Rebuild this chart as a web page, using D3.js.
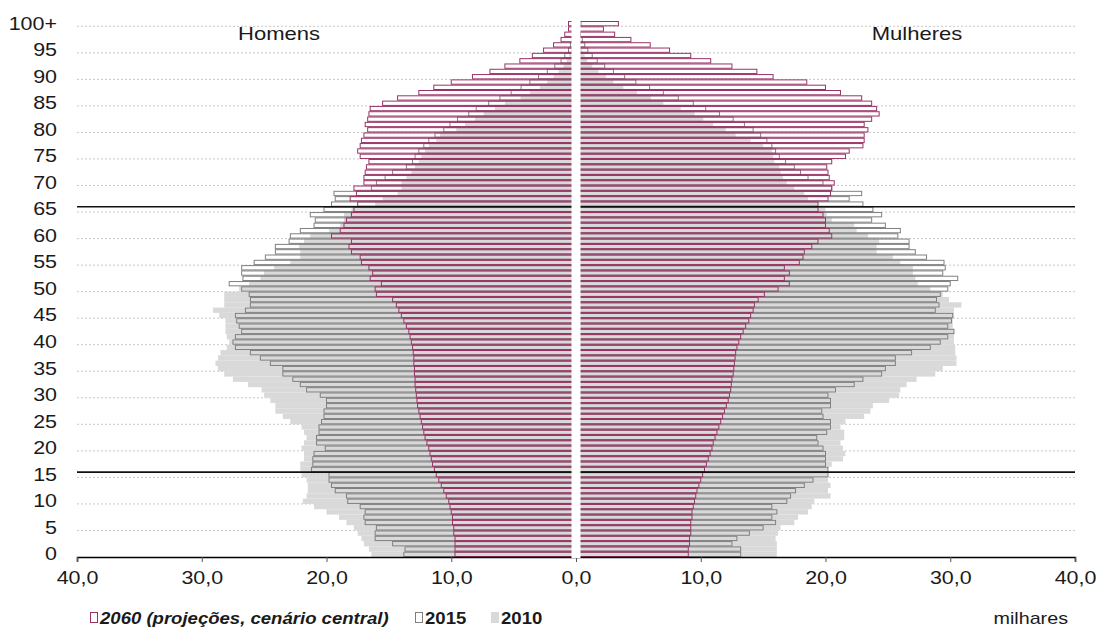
<!DOCTYPE html>
<html>
<head>
<meta charset="UTF-8">
<title>Pirâmide etária 2010, 2015 e 2060</title>
<script src="https://cdn.jsdelivr.net/npm/d3@7/dist/d3.min.js"></script>
<style>
    body { margin: 0; background: #ffffff; }
    text { font-family: "Liberation Sans", Arial, Helvetica, sans-serif; fill: #1a1a1a; }
</style>
</head>
<body>
<svg id="chart" width="1100" height="628"></svg>
<script>
// idades 0..100+ (milhares)
var idades = d3.range(0, 101);
var idadeTicks = [0, 5, 10, 15, 20, 25, 30, 35, 40, 45, 50, 55, 60, 65, 70, 75, 80, 85, 90, 95, 100];
var xTicks = [-40, -30, -20, -10, 0, 10, 20, 30, 40];
var linhasRef = [65, 15];

var homens2010 = [16.4, 16.6, 17.0, 17.2, 17.5, 17.8, 18.4, 19.0, 20.0, 21.0,
    21.9, 21.6, 21.5, 21.5, 21.6, 22.0, 22.1, 22.1, 21.8, 21.8,
    22.0, 21.8, 21.6, 21.8, 22.0, 22.9, 23.5, 24.1, 24.1, 24.5,
    25.0, 25.2, 26.3, 27.5, 28.2, 28.7, 28.9, 28.7, 28.5, 28.0,
    27.8, 28.0, 28.1, 28.1, 28.1, 28.6, 29.1, 28.2, 28.2, 28.2,
    27.0, 26.2, 25.3, 25.0, 24.2, 22.9, 22.1, 22.1, 22.2, 21.8,
    21.3, 19.8, 18.9, 18.6, 18.6, 18.0, 16.1, 15.5, 14.3, 14.0,
    14.0, 13.6, 13.2, 12.9, 12.6, 12.4, 12.1, 11.8, 11.2, 10.9,
    9.6, 8.9, 8.1, 7.4, 6.5, 5.7, 4.45, 3.7, 2.9, 2.3,
    1.8, 1.4, 1.0, 0.75, 0.55, 0.4, 0.28, 0.2, 0.14, 0.1,
    0.15];
var homens2015 = [13.8, 13.7, 14.7, 16.1, 16.1, 16.0, 16.9, 17.0, 16.9, 17.3,
    18.3, 18.4, 19.3, 19.6, 19.8, 19.8, 21.2, 21.1, 21.1, 21.0,
    20.1, 20.8, 20.8, 20.6, 20.6, 20.4, 20.2, 20.2, 20.0, 20.0,
    20.5, 21.6, 22.1, 22.7, 23.5, 23.5, 24.5, 25.3, 26.1, 27.3,
    27.5, 27.3, 26.8, 27.0, 27.2, 27.3, 26.5, 26.1, 26.1, 26.2,
    26.8, 27.8, 26.7, 26.8, 26.8, 25.8, 24.9, 24.1, 24.1, 23.0,
    22.9, 22.1, 21.0, 20.9, 21.3, 20.2, 19.6, 19.3, 19.4, 16.4,
    16.0, 15.3, 14.7, 13.6, 13.1, 12.9, 12.6, 12.2, 11.8, 11.3,
    10.6, 10.1, 9.5, 8.6, 8.0, 7.0, 6.1, 5.2, 4.4, 3.7,
    3.0, 2.3, 1.7, 1.2, 0.9, 0.6, 0.45, 0.3, 0.2, 0.15,
    0.2];
var homens2060 = [9.7, 9.7, 9.7, 9.7, 9.8, 9.8, 9.9, 9.9, 10.0, 10.1,
    10.2, 10.4, 10.6, 10.8, 11.0, 11.2, 11.35, 11.5, 11.6, 11.7,
    11.8, 11.95, 12.1, 12.2, 12.3, 12.4, 12.5, 12.6, 12.7, 12.75,
    12.8, 12.85, 12.9, 12.9, 12.95, 12.95, 13.0, 13.0, 13.05, 13.1,
    13.2, 13.3, 13.4, 13.6, 13.8, 14.0, 14.2, 14.4, 14.7, 16.0,
    16.1, 15.6, 16.5, 16.3, 16.6, 17.2, 17.3, 18.0, 18.2, 18.0,
    19.6, 18.9, 18.6, 18.4, 18.0, 17.8, 17.5, 18.1, 17.6, 17.8,
    17.0, 17.0, 16.9, 16.8, 16.6, 17.3, 17.5, 17.3, 17.2, 17.0,
    16.7, 16.9, 16.7, 16.6, 16.5, 15.5, 14.3, 12.6, 11.4, 10.0,
    8.3, 6.9, 5.7, 4.5, 3.5, 2.6, 1.8, 1.2, 0.9, 0.6,
    0.6];

var mulheres2010 = [16.1, 16.1, 16.1, 16.0, 16.2, 16.4, 17.5, 17.8, 18.6, 18.9,
    19.1, 20.4, 20.2, 20.4, 20.2, 20.2, 20.2, 20.5, 21.4, 21.6,
    21.4, 21.2, 21.5, 21.5, 21.2, 21.6, 23.1, 23.6, 23.8, 25.1,
    25.9, 26.0, 26.5, 27.3, 28.8, 29.4, 30.5, 30.5, 30.4, 30.4,
    30.3, 30.3, 30.3, 30.2, 30.2, 30.3, 30.3, 30.9, 29.9, 29.4,
    28.4, 27.4, 27.2, 27.0, 27.0, 26.0, 25.4, 24.1, 24.1, 24.3,
    23.4, 22.5, 22.3, 20.5, 20.1, 20.0, 19.4, 18.6, 18.3, 17.5,
    16.9, 16.6, 16.4, 16.3, 15.9, 15.8, 15.7, 15.0, 14.0, 12.8,
    12.0, 11.0, 10.2, 9.5, 8.4, 7.0, 6.0, 4.9, 3.8, 3.0,
    2.4, 1.8, 1.3, 0.9, 0.7, 0.5, 0.35, 0.25, 0.18, 0.12,
    0.2];
var mulheres2015 = [13.2, 13.2, 12.5, 12.9, 13.9, 15.0, 16.0, 15.7, 16.1, 15.7,
    16.9, 17.2, 17.6, 18.3, 19.0, 20.2, 20.2, 20.0, 20.0, 20.0,
    19.8, 19.4, 19.3, 20.1, 20.4, 20.4, 19.8, 19.7, 20.4, 20.4,
    20.2, 20.8, 22.3, 23.0, 24.5, 24.8, 25.6, 25.6, 26.9, 28.4,
    29.2, 29.8, 30.3, 29.8, 30.1, 30.2, 28.8, 29.1, 28.9, 29.2,
    29.8, 30.0, 30.6, 29.4, 29.6, 29.5, 28.1, 27.2, 26.7, 26.7,
    25.8, 26.0, 24.8, 23.7, 24.5, 23.8, 23.0, 21.9, 22.9, 20.5,
    19.8, 18.6, 18.0, 17.5, 16.8, 16.3, 16.0, 15.7, 15.3, 14.8,
    14.2, 13.5, 12.6, 11.5, 10.4, 9.4, 8.2, 7.0, 5.9, 4.8,
    3.9, 3.0, 2.3, 1.7, 1.3, 0.95, 0.7, 0.5, 0.35, 0.25,
    0.4];
var mulheres2060 = [9.0, 9.0, 9.1, 9.1, 9.2, 9.2, 9.2, 9.3, 9.3, 9.4,
    9.5, 9.6, 9.7, 9.85, 10.0, 10.15, 10.3, 10.45, 10.6, 10.75,
    10.9, 11.0, 11.15, 11.3, 11.45, 11.6, 11.75, 11.9, 12.05, 12.2,
    12.3, 12.4, 12.45, 12.5, 12.6, 12.65, 12.7, 12.75, 12.8, 12.9,
    13.05, 13.2, 13.4, 13.6, 13.85, 14.0, 14.2, 14.3, 14.6, 15.1,
    16.2, 17.1, 16.7, 17.1, 16.7, 17.9, 18.2, 18.3, 18.9, 19.4,
    20.5, 20.3, 20.0, 20.0, 19.8, 19.4, 19.4, 20.2, 20.4, 20.5,
    20.7, 20.3, 20.2, 20.1, 20.5, 21.6, 21.9, 23.0, 23.1, 23.1,
    23.4, 23.1, 23.7, 24.3, 24.1, 23.7, 22.9, 21.2, 20.0, 18.5,
    15.8, 14.5, 12.5, 10.8, 9.2, 7.5, 5.95, 4.4, 3.1, 2.2,
    3.4];

var cor2060 = "#993366", cor2015 = "#808080", cor2010 = "#d9d9d9";
var esticar = 1.16;   // o texto do original esta um pouco alargado

var svg = d3.select("#chart");

var x = d3.scaleLinear().domain([-40, 40]).range([77, 1075]);
var y = d3.scaleBand().domain(idades).range([557, 21]).paddingInner(0).paddingOuter(0);
var bw = y.bandwidth();

// grelha pontilhada (no limite inferior de cada 5 anos)
svg.append("g").selectAll("line.grelha")
    .data(idadeTicks.filter(function(d){ return d > 0; }))
    .enter().append("line")
    .attr("class", "grelha")
    .attr("x1", x(-40)).attr("x2", x(40))
    .attr("y1", function(d){ return y(d) + bw; })
    .attr("y2", function(d){ return y(d) + bw; })
    .attr("stroke", "#c8c8c8").attr("stroke-width", 1)
    .attr("stroke-dasharray", "2,2");

// series: 2010 preenchida, 2015 e 2060 so contorno
var series = [
    {h: homens2010, m: mulheres2010, tipo: "fill", cor: cor2010},
    {h: homens2015, m: mulheres2015, tipo: "line", cor: cor2015},
    {h: homens2060, m: mulheres2060, tipo: "line", cor: cor2060}
];

series.forEach(function(s){
    var g = svg.append("g");
    var lados = [{v: s.h, sinal: -1}, {v: s.m, sinal: 1}];
    lados.forEach(function(l){
        var sel = g.selectAll(null)
            .data(idades)
            .enter().append("rect")
            .attr("x", function(d){ return l.sinal < 0 ? x(-l.v[d]) : x(0); })
            .attr("width", function(d){ return Math.abs(x(l.v[d]) - x(0)); });
        if (s.tipo == "fill") {
            sel.attr("y", function(d){ return y(d); })
               .attr("height", bw)
               .attr("fill", s.cor).attr("stroke", "none");
        } else {
            sel.attr("y", function(d){ return y(d) + 0.5; })
               .attr("height", bw - 1)
               .attr("fill", "none").attr("stroke", s.cor).attr("stroke-width", 1);
        }
    });
});

// linhas dos 15 e 65 anos
svg.append("g").selectAll("line.ref")
    .data(linhasRef)
    .enter().append("line")
    .attr("x1", x(-40)).attr("x2", x(40))
    .attr("y1", function(d){ return y(d); })
    .attr("y2", function(d){ return y(d); })
    .attr("stroke", "#111").attr("stroke-width", 1.6);

// eixo x
var fmt = function(d){ return d3.format(".1f")(Math.abs(d)).replace(".", ","); };
var gx = svg.append("g")
    .attr("transform", "translate(0,557)")
    .call(d3.axisBottom(x).tickValues(xTicks).tickFormat(fmt).tickSize(5).tickPadding(9));
gx.select(".domain").attr("stroke", "#000").attr("stroke-width", 1.6);
gx.selectAll(".tick line").attr("stroke", "#555");
gx.selectAll(".tick text")
    .attr("font-size", "18.5px").attr("fill", "#1a1a1a")
    .attr("font-family", "Liberation Sans, Arial, sans-serif")
    .attr("transform", "scale(" + esticar + ",1)");

// faixa branca ao centro
svg.append("rect")
    .attr("x", x(0) - 4.5).attr("y", 12)
    .attr("width", 9).attr("height", 558 - 12)
    .attr("fill", "#ffffff");

// eixo das idades
var gy = svg.append("g")
    .attr("transform", "translate(57,0)")
    .call(d3.axisLeft(y).tickValues(idadeTicks)
        .tickFormat(function(d){ return d == 100 ? "100+" : d; })
        .tickSize(0).tickPadding(0));
gy.select(".domain").remove();
gy.selectAll(".tick text")
    .attr("font-size", "18.5px").attr("fill", "#1a1a1a")
    .attr("font-family", "Liberation Sans, Arial, sans-serif")
    .attr("transform", "scale(" + esticar + ",1)");

function texto(t, px, py, anchor, size, weight, style) {
    return svg.append("text")
        .attr("transform", "translate(" + px + "," + py + ") scale(" + esticar + ",1)")
        .attr("text-anchor", anchor)
        .attr("font-size", size + "px")
        .attr("font-weight", weight || "normal")
        .attr("font-style", style || "normal")
        .text(t);
}

texto("Homens", 279, 40, "middle", 19);
texto("Mulheres", 917, 40, "middle", 19);

// legenda
var legenda = [
    {nome: "2060 (projeções, cenário central)", x: 90, stroke: cor2060, fill: "#fff", italic: true},
    {nome: "2015", x: 415, stroke: cor2015, fill: "#fff", italic: false},
    {nome: "2010", x: 491, stroke: cor2010, fill: cor2010, italic: false}
];
legenda.forEach(function(l){
    svg.append("rect")
        .attr("x", l.x + 0.5).attr("y", 612.5)
        .attr("width", 7).attr("height", 10)
        .attr("fill", l.fill).attr("stroke", l.stroke).attr("stroke-width", 1);
    texto(l.nome, l.x + 10, 624, "start", 16, "bold", l.italic ? "italic" : "normal");
});

texto("milhares", 1068, 624, "end", 17);
</script>
</body>
</html>
